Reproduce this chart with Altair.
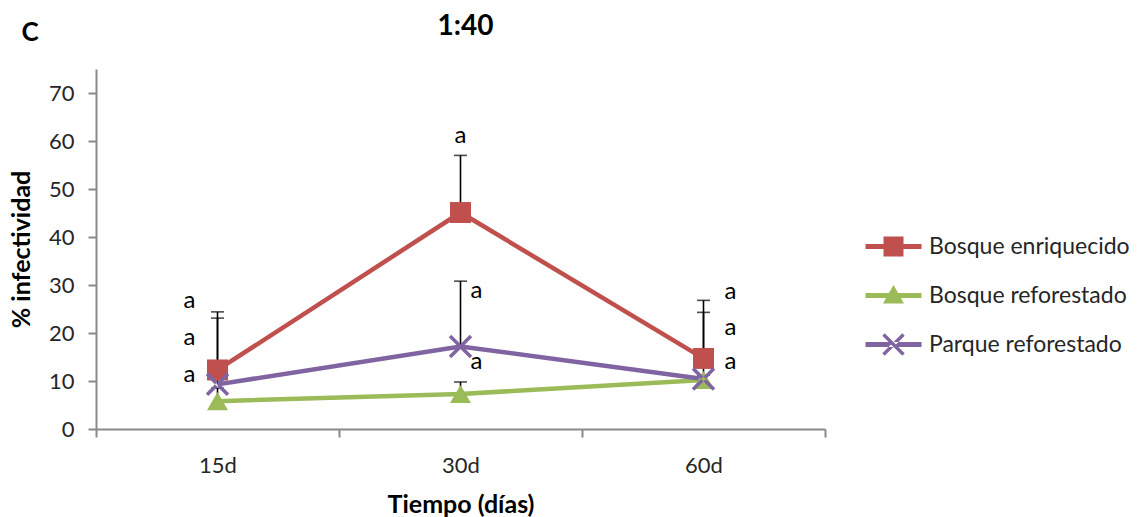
import altair as alt
import pandas as pd

categories = ["15d", "30d", "60d"]
series = ["Bosque enriquecido", "Bosque reforestado", "Parque reforestado"]
colors = ["#C0504D", "#9BBB59", "#8064A2"]

enriquecido = [12.3, 45.1, 14.7]
reforestado = [5.8, 7.3, 10.2]
parque = [9.3, 17.2, 10.4]

enriquecido_err = [12.1, 11.9, 12.1]
reforestado_err = [2.7, 2.5, 1.0]
parque_err = [13.8, 13.6, 13.9]

letter_cat = ["15d", "15d", "15d", "30d", "30d", "30d", "60d", "60d", "60d"]
letter_y = [26.6, 18.9, 11.2, 61.1, 28.7, 13.9, 28.5, 21.0, 13.9]
letter_side = ["left", "left", "left", "top", "right", "right", "far", "far", "far"]
letter_txt = ["a"] * 9

y_ticks = [0, 10, 20, 30, 40, 50, 60, 70]

rows = []
for s, vals, errs in [(series[0], enriquecido, enriquecido_err),
                      (series[1], reforestado, reforestado_err),
                      (series[2], parque, parque_err)]:
    for c, v, e in zip(categories, vals, errs):
        rows.append({"cat": c, "serie": s, "val": v, "up": v + e})
df = pd.DataFrame(rows)
letters = pd.DataFrame({"cat": letter_cat, "y": letter_y, "side": letter_side, "t": letter_txt})

X_PATH = ("M-0.88,-1.12L1.12,0.88L0.88,1.12L-1.12,-0.88Z"
          "M-0.88,1.12L1.12,-0.88L0.88,-1.12L-1.12,0.88Z")
plot_shapes = ["square", "triangle-up", X_PATH]
legend_shapes = [
    "M-2.8,-0.25H2.8V0.25H-2.8Z M-1,-1H1V1H-1Z",
    "M-2.8,-0.25H2.8V0.25H-2.8Z M0,-1.05L1.05,0.8H-1.05Z",
    "M-2.8,-0.25H2.8V0.25H-2.8Z " + X_PATH,
]

xenc = alt.X("cat:N", sort=categories, title="Tiempo (días)",
             scale=alt.Scale(paddingInner=0, paddingOuter=0),
             axis=alt.Axis(labelAngle=0, tickBand="extent", tickSize=8,
                           labelPadding=18, titlePadding=16))
yscale = alt.Scale(domain=[0, 75], nice=False)
yenc = alt.Y("val:Q", scale=yscale, title="% infectividad",
             axis=alt.Axis(values=y_ticks, tickSize=8, labelPadding=14,
                           titlePadding=14, grid=False))
cscale = alt.Scale(domain=series, range=colors)

base = alt.Chart(df)

err_rule = base.mark_rule(color="black", strokeWidth=1.6).encode(
    x=xenc, y=yenc, y2="up:Q")
err_cap = base.mark_tick(color="black", thickness=1.6, size=13, orient="horizontal").encode(
    x=xenc, y=alt.Y("up:Q", scale=yscale))
lines = base.mark_line(strokeWidth=4.5).encode(
    x=xenc, y=yenc,
    color=alt.Color("serie:N", scale=cscale, legend=None),
    order=alt.Order("cat:N"))
points = base.mark_point(filled=True, opacity=1, size=440).encode(
    x=xenc, y=yenc,
    color=alt.Color("serie:N", scale=cscale, legend=None),
    shape=alt.Shape("serie:N", scale=alt.Scale(domain=series, range=plot_shapes), legend=None))

lbase = alt.Chart(letters)
ltxt = dict(fontSize=24, color="black", baseline="middle")
let_left = lbase.transform_filter("datum.side == 'left'").mark_text(dx=-28, **ltxt).encode(
    x=xenc, y=alt.Y("y:Q", scale=yscale), text="t:N")
let_top = lbase.transform_filter("datum.side == 'top'").mark_text(dx=0, **ltxt).encode(
    x=xenc, y=alt.Y("y:Q", scale=yscale), text="t:N")
let_right = lbase.transform_filter("datum.side == 'right'").mark_text(dx=16, **ltxt).encode(
    x=xenc, y=alt.Y("y:Q", scale=yscale), text="t:N")
let_far = lbase.transform_filter("datum.side == 'far'").mark_text(dx=27, **ltxt).encode(
    x=xenc, y=alt.Y("y:Q", scale=yscale), text="t:N")

panel = alt.Chart(pd.DataFrame({"t": ["C"]})).mark_text(
    fontSize=26, fontWeight="bold", color="black", align="center", baseline="middle"
).encode(x=alt.value(-66), y=alt.value(-36), text="t:N")

visible = alt.layer(err_rule, err_cap, lines, points, let_left, let_top, let_right, let_far, panel)

legend_layer = base.transform_filter("false").mark_point(filled=True, opacity=1).encode(
    x=xenc, y=yenc,
    color=alt.Color("serie:N", scale=alt.Scale(domain=series, range=colors), title=None,
                    legend=alt.Legend(orient="none", legendX=786, legendY=166,
                                      symbolSize=400, symbolOpacity=1, symbolStrokeWidth=0,
                                      labelOffset=24, rowPadding=25, labelFontSize=23,
                                      labelColor="#262626", labelLimit=400, padding=0)),
    shape=alt.Shape("serie:N", scale=alt.Scale(domain=series, range=legend_shapes), title=None))

chart = alt.layer(visible, legend_layer).resolve_scale(
    color="independent", shape="independent"
).properties(
    width=729, height=360,
    autosize=alt.AutoSizeParams(type="none"),
    padding={"left": 96, "top": 69, "right": 320, "bottom": 88},
    title=alt.Title("1:40", fontSize=28, fontWeight="bold", color="black", offset=0, dy=21,
                    dx=5, anchor="middle", frame="group"),
).configure(font="Lato").configure_axis(
    domainColor="#898989", tickColor="#898989", domainWidth=2, tickWidth=2,
    labelFontSize=22, labelColor="#262626", titleFontSize=25, titleFontWeight="bold",
    titleColor="black"
).configure_view(stroke=None)

chart.save("out.html", embed_options={"renderer": "svg", "actions": False})
